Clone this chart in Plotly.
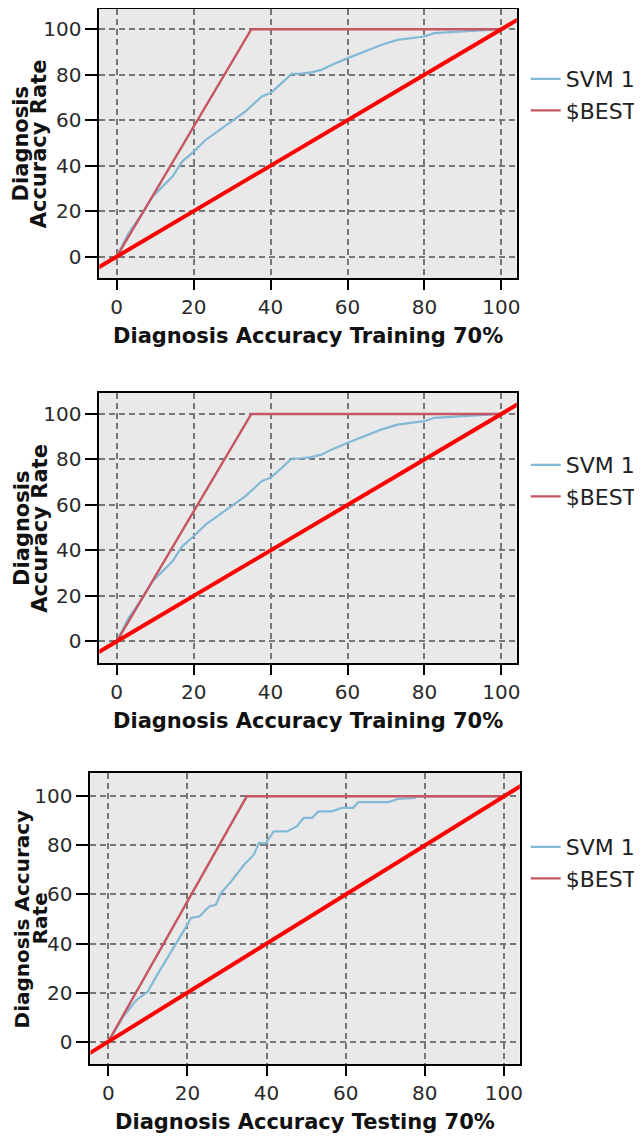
import plotly.graph_objects as go

# The page body has an 8px default margin, so the figure is drawn 8px in from the corner.
OFF = 8
W, H = 642 - OFF, 1138 - OFF

# ---------------- data ----------------
svm_train_x = [0, 3, 6.7, 9.3, 12, 14.5, 17, 20, 23.1, 27.4, 30.9, 33.4, 37.7, 40, 42.9,
               45.5, 47.5, 50.6, 53.2, 55.8, 60.1, 64.4, 68.7, 73, 80, 82.5, 90.3, 98.9, 100]
svm_train_y = [0, 10, 19.1, 26.4, 31, 35.2, 41.8, 46.2, 51.3, 56.5, 60.9, 63.8, 70.4, 71.9, 76.3,
               80.4, 80.4, 81, 82.1, 84.3, 87.3, 90.2, 93.1, 95.3, 96.8, 98.3, 99, 99.7, 100]

svm_test_x = [0, 3.8, 7.1, 10, 12.1, 14.7, 17.2, 19.7, 20.9, 23, 25.5, 27.2, 28.5, 31.4, 34.3,
              36.8, 38.1, 39.8, 41.8, 45.2, 47.7, 49.4, 51.5, 53.1, 56.5, 59, 61.9, 63.2, 70.7,
              73.2, 77.4, 78, 100]
svm_test_y = [0, 10.2, 17, 20.4, 26.5, 33.3, 40.2, 46.9, 50.4, 51, 55.1, 55.8, 60.6, 66, 72.1,
              76.2, 81, 80.8, 85.7, 85.7, 87.8, 91.2, 91.2, 93.9, 93.9, 95.3, 95.3, 97.6, 97.6,
              98.9, 99.3, 100, 100]

best_x = [0, 35, 100]
best_y = [0, 100, 100]

diag_x = [-10, 110]
diag_y = [-10, 110]

tick_vals = [0, 20, 40, 60, 80, 100]
tick_text = ["0", "20", "40", "60", "80", "100"]

panel_x_titles = ["Diagnosis Accuracy Training 70%",
                  "Diagnosis Accuracy Training 70%",
                  "Diagnosis Accuracy Testing 70%"]
panel_y_titles = [["Diagnosis", "Accuracy Rate"],
                  ["Diagnosis", "Accuracy Rate"],
                  ["Diagnosis Accuracy", "Rate"]]
series_names = ["SVM 1", "$BEST"]

# ---------------- layout geometry (page pixels) ----------------
frames = [(100, 520, 9, 278), (100, 520, 393, 663), (91, 523, 773, 1064)]  # l, r, t, b
y_ranges = [[-9.4, 108.9], [-9.5, 109.2], [-9.1, 109.5]]
ytitle_cols = [(22, 40), (22, 40), (22, 40)]
ytitle_sizes = [21, 21, 20]
legend_top = [58, 444, 826]

svm_sets = [(svm_train_x, svm_train_y), (svm_train_x, svm_train_y), (svm_test_x, svm_test_y)]


def px(xp):
    return min(1.0, max(0.0, (xp - OFF) / W))


def py(yp):
    return min(1.0, max(0.0, 1 - (yp - OFF) / H))


SVM_COLOR = "rgb(130,185,214)"
BEST_COLOR = "rgb(198,86,98)"
DIAG_COLOR = "rgb(255,0,0)"
FONT = "DejaVu Sans"

fig = go.Figure()
annotations = []
layout = dict(
    width=W, height=H,
    margin=dict(l=0, r=0, t=0, b=0),
    paper_bgcolor="white",
    plot_bgcolor="#E9E9E9",
    template="none",
    showlegend=True,
    font=dict(family=FONT, color="#222"),
)

for i in range(3):
    k = "" if i == 0 else str(i + 1)
    xa, ya = "x" + k, "y" + k
    leg = "legend" + k
    l, r, t, b = frames[i]
    sx, sy = svm_sets[i]

    fig.add_trace(go.Scatter(x=sx, y=sy, mode="lines", name=series_names[0],
                             line=dict(color=SVM_COLOR, width=2.2),
                             xaxis=xa, yaxis=ya, legend=leg))
    fig.add_trace(go.Scatter(x=best_x, y=best_y, mode="lines", name=series_names[1],
                             line=dict(color=BEST_COLOR, width=2.4),
                             xaxis=xa, yaxis=ya, legend=leg))
    fig.add_trace(go.Scatter(x=diag_x, y=diag_y, mode="lines", showlegend=False,
                             line=dict(color=DIAG_COLOR, width=4),
                             xaxis=xa, yaxis=ya, legend=leg))

    axis_common = dict(
        tickvals=tick_vals, ticktext=tick_text,
        showgrid=True, gridcolor="#777777", gridwidth=1.6, griddash="6px,4px",
        zeroline=False,
        showline=True, linecolor="black", linewidth=2, mirror=True,
        ticks="outside", tickwidth=2, tickcolor="black",
        tickfont=dict(family=FONT, size=20, color="#2a2a2a"),
        automargin=False,
        fixedrange=True,
    )
    layout["xaxis" + k] = dict(axis_common, domain=[px(l), px(r)], range=[-4.5, 104],
                               anchor=ya, ticklen=10)
    layout["yaxis" + k] = dict(axis_common, domain=[py(b), py(t)], range=y_ranges[i],
                               anchor=xa, ticklen=12)
    layout[leg] = dict(x=px(529), y=py(legend_top[i]), xanchor="left", yanchor="top",
                       bgcolor="rgba(0,0,0,0)", borderwidth=0,
                       font=dict(family=FONT, size=22, color="#222"),
                       traceorder="normal", itemclick=False)

    # x axis title
    annotations.append(dict(text="<b>" + panel_x_titles[i] + "</b>", xref="paper", yref="paper",
                            x=px((l + r) / 2), y=py(b + 58), xanchor="center",
                            yanchor="middle", showarrow=False,
                            font=dict(family=FONT, size=21, color="#111")))
    # y axis title (two lines)
    for line_txt, cx in zip(panel_y_titles[i], ytitle_cols[i]):
        annotations.append(dict(text="<b>" + line_txt + "</b>", xref="paper", yref="paper",
                                x=px(cx), y=py((t + b) / 2), xanchor="center",
                                yanchor="middle", textangle=-90, showarrow=False,
                                font=dict(family=FONT, size=ytitle_sizes[i], color="#111")))

layout["annotations"] = annotations
fig.update_layout(**layout)
fig.write_html("out.html")
